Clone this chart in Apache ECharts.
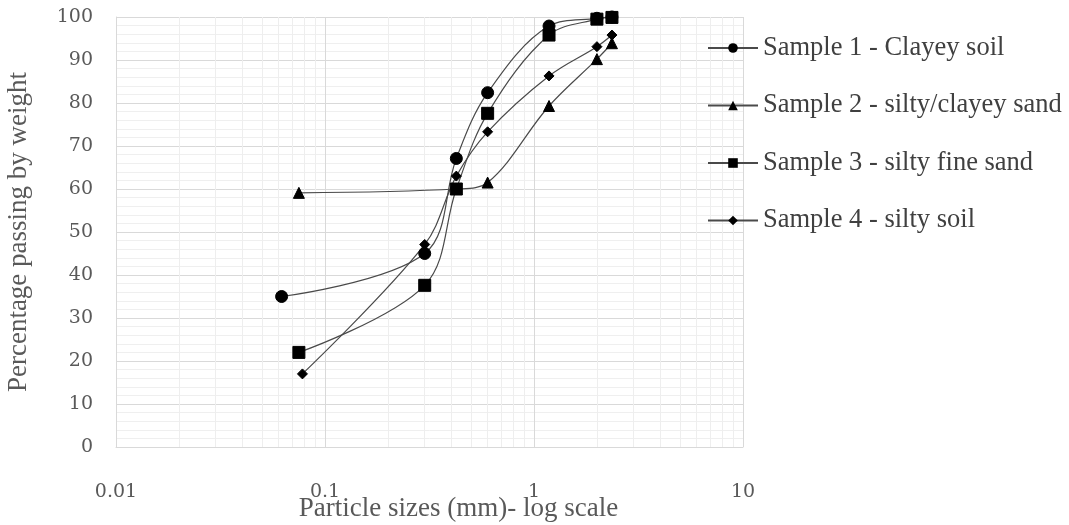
<!DOCTYPE html>
<html>
<head>
<meta charset="utf-8">
<script src="https://cdn.jsdelivr.net/npm/echarts@6/dist/echarts.min.js"></script>
<style>
  html, body { margin: 0; padding: 0; background: #fff; }
  #chart { width: 1069px; height: 525px; }
</style>
</head>
<body>
<div id="chart"></div>
<script>
// sieve sizes (mm) and percentage passing
var sample1_x = [0.062, 0.3, 0.425, 0.6, 1.18, 2.0, 2.36];
var sample1_y = [35, 45, 67.1, 82.4, 97.9, 99.7, 100];
var sample2_x = [0.075, 0.425, 0.6, 1.18, 2.0, 2.36];
var sample2_y = [59.1, 60, 61.5, 79.3, 90.2, 93.9];
var sample3_x = [0.075, 0.3, 0.425, 0.6, 1.18, 2.0, 2.36];
var sample3_y = [22, 37.6, 60, 77.6, 95.8, 99.5, 99.9];
var sample4_x = [0.078, 0.3, 0.425, 0.6, 1.18, 2.0, 2.36];
var sample4_y = [17, 47.1, 63, 73.3, 86.3, 93.1, 95.8];

var names = [
  "Sample 1 - Clayey soil",
  "Sample 2 - silty/clayey sand",
  "Sample 3 - silty fine sand",
  "Sample 4 - silty soil"
];
var symbols = ["circle", "triangle", "rect", "diamond"];
var symbolSizes = [12, 11, 12, 10];

// minor log grid lines (2..9 in each decade)
var minorX = [];
[0.01, 0.1, 1].forEach(function (d) {
  for (var k = 2; k <= 9; k++) minorX.push(+(d * k).toFixed(3));
});

var font = "Liberation Serif";
var tickFont = "DejaVu Serif";
var xs = [sample1_x, sample2_x, sample3_x, sample4_x];
var ys = [sample1_y, sample2_y, sample3_y, sample4_y];

function pairs(x, y) {
  return x.map(function (v, i) { return [v, y[i]]; });
}

var series = names.map(function (n, i) {
  return {
    name: n,
    type: "line",
    smooth: 0.35,
    data: pairs(xs[i], ys[i]),
    symbol: symbols[i],
    symbolSize: symbolSizes[i],
    showAllSymbol: true,
    lineStyle: { color: "#4a4a4a", width: 1.2 },
    itemStyle: { color: "#000", borderColor: "#000" },
    z: 3
  };
});

// helper series only carrying the minor vertical grid lines
series.unshift({
  type: "line",
  data: [],
  silent: true,
  z: 1,
  markLine: {
    silent: true,
    z: 1,
    symbol: "none",
    label: { show: false },
    lineStyle: { color: "#eeeeee", type: "solid", width: 1 },
    animation: false,
    data: minorX.map(function (v) { return { xAxis: v }; })
  }
});

var chart = echarts.init(document.getElementById("chart"));
chart.setOption({
  animation: false,
  backgroundColor: "#fff",
  grid: { left: 116, right: 326, top: 17, bottom: 78, outerBoundsMode: "none" },
  legend: {
    data: names,
    orient: "vertical",
    left: 707,
    top: 34,
    padding: 0,
    itemWidth: 50,
    itemHeight: 12,
    itemGap: 29.5,
    textStyle: { fontFamily: font, fontSize: 26.5, color: "#404040", lineHeight: 28 }
  },
  xAxis: {
    type: "log",
    logBase: 10,
    min: 0.01,
    max: 10,
    name: "Particle sizes (mm)- log scale",
    nameLocation: "middle",
    nameGap: 48,
    nameMoveOverlap: false,
    nameTextStyle: { fontFamily: font, fontSize: 27, color: "#595959", padding: [0, 0, 0, 58] },
    axisLine: { lineStyle: { color: "#d9d9d9" } },
    axisTick: { show: false },
    axisLabel: {
      margin: 36,
      fontFamily: tickFont,
      fontSize: 19,
      color: "#595959",
      formatter: function (v) { return String(+v.toFixed(2)); }
    },
    splitLine: { show: true, lineStyle: { color: "#d9d9d9" } }
  },
  yAxis: {
    type: "value",
    min: 0,
    max: 100,
    interval: 10,
    name: "Percentage passing by weight",
    nameLocation: "middle",
    nameGap: 84,
    nameMoveOverlap: false,
    nameTextStyle: { fontFamily: font, fontSize: 27, color: "#595959" },
    axisLine: { show: true, lineStyle: { color: "#d9d9d9" } },
    axisTick: { show: false },
    axisLabel: { margin: 23, fontFamily: tickFont, fontSize: 19, color: "#595959" },
    splitLine: { show: true, lineStyle: { color: "#d9d9d9" } },
    minorTick: { show: false, splitNumber: 5 },
    minorSplitLine: { show: true, lineStyle: { color: "#efefef" } }
  },
  series: series
});
</script>
</body>
</html>
